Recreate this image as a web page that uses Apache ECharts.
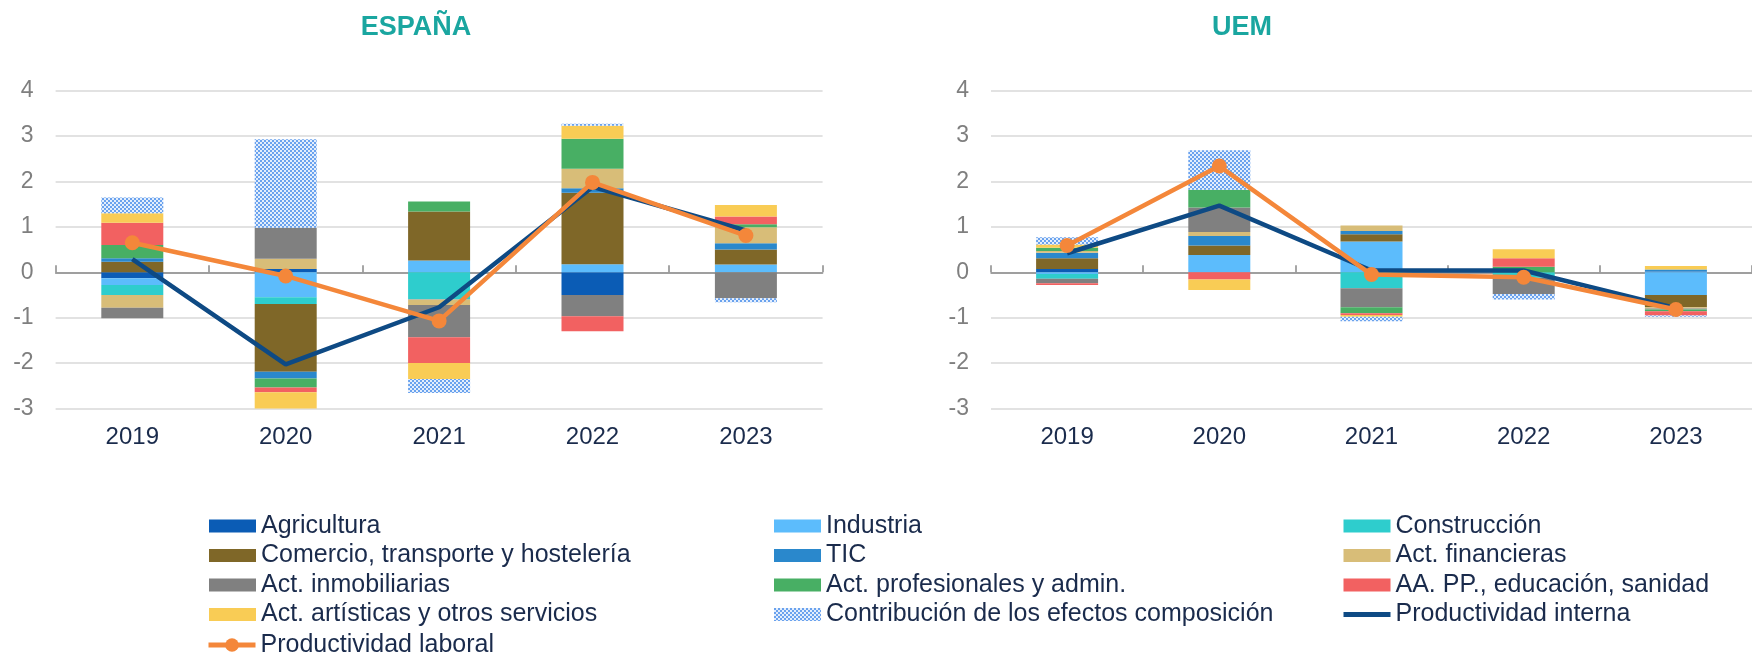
<!DOCTYPE html>
<html>
<head>
<meta charset="utf-8">
<script src="https://cdn.jsdelivr.net/npm/echarts@6/dist/echarts.min.js"></script>
<style>
  html, body { margin: 0; padding: 0; background: #fff; }
  #chart { width: 1752px; height: 652px; }
</style>
</head>
<body>
<div id="chart"></div>
<script>
const years = ['2019', '2020', '2021', '2022', '2023']

// ESPAÑA
const agriEs = [-0.13, 0.07, 0, -0.50, 0]
const indEs = [-0.15, -0.55, 0.26, 0.18, 0.17]
const consEs = [-0.22, -0.15, -0.59, 0, 0]
const comEs = [0.23, -1.49, 1.08, 1.57, 0.33]
const ticEs = [0.08, -0.15, -0.01, 0.10, 0.14]
const finEs = [-0.28, 0.23, -0.12, 0.43, 0.35]
const inmEs = [-0.23, 0.68, -0.71, -0.47, -0.57]
const profEs = [0.29, -0.20, 0.22, 0.66, 0.07]
const aappEs = [0.49, -0.10, -0.57, -0.33, 0.17]
const artEs = [0.21, -0.40, -0.35, 0.29, 0.25]
const contEs = [0.35, 1.95, -0.31, 0.04, -0.09]
const internaEs = [0.29, -2.03, -0.77, 1.88, 0.92]
const laboralEs = [0.65, -0.08, -1.07, 1.98, 0.81]

// UEM
const agriUem = [0.07, 0, 0, 0, 0.02]
const indUem = [-0.04, 0.38, 0.68, 0, -0.50]
const consUem = [-0.10, 0, -0.35, -0.12, 0]
const comUem = [0.24, 0.21, 0.16, 0, -0.27]
const ticUem = [0.12, 0.21, 0.07, 0, 0.04]
const finUem = [0.04, 0.09, 0.12, 0, -0.03]
const inmUem = [-0.10, 0.54, -0.42, -0.36, -0.02]
const profUem = [0.07, 0.39, -0.13, 0.12, -0.04]
const aappUem = [-0.04, -0.16, -0.04, 0.19, -0.09]
const artUem = [0.07, -0.23, -0.04, 0.20, 0.08]
const contUem = [0.16, 0.87, -0.10, -0.12, -0.03]
const internaUem = [0.42, 1.47, 0.04, 0.04, -0.79]
const laboralUem = [0.59, 2.34, -0.05, -0.11, -0.82]

const yTicks = [-3, -2, -1, 0, 1, 2, 3, 4]

// hatched fill for "Contribución de los efectos composición"
function makeHatch() {
  const c = document.createElement('canvas')
  c.width = 4
  c.height = 4
  const ctx = c.getContext('2d')
  ctx.fillStyle = '#e3eefc'
  ctx.fillRect(0, 0, 4, 4)
  ctx.fillStyle = '#6aa2ee'
  ctx.fillRect(0, 0, 2, 2)
  ctx.fillRect(2, 2, 2, 2)
  return c
}
const hatch = { image: makeHatch(), repeat: 'repeat' }

const barDefs = [
  { name: 'Agricultura', color: '#0b5cb5', es: agriEs, uem: agriUem },
  { name: 'Industria', color: '#5cbcfc', es: indEs, uem: indUem },
  { name: 'Construcción', color: '#2ecdcd', es: consEs, uem: consUem },
  { name: 'Comercio, transporte y hostelería', color: '#7f6728', es: comEs, uem: comUem },
  { name: 'TIC', color: '#2a88cc', es: ticEs, uem: ticUem },
  { name: 'Act. financieras', color: '#d8bd78', es: finEs, uem: finUem },
  { name: 'Act. inmobiliarias', color: '#808080', es: inmEs, uem: inmUem },
  { name: 'Act. profesionales y admin.', color: '#48af64', es: profEs, uem: profUem },
  { name: 'AA. PP., educación, sanidad', color: '#f26161', es: aappEs, uem: aappUem },
  { name: 'Act. artísticas y otros servicios', color: '#f9cc55', es: artEs, uem: artUem },
  { name: 'Contribución de los efectos composición', color: hatch, es: contEs, uem: contUem },
]

const series = []
;[['es', 0, 0], ['uem', 2, 1]].forEach(([key, xi, yi]) => {
  barDefs.forEach(d => {
    series.push({
      name: d.name,
      type: 'bar',
      stack: key,
      xAxisIndex: xi,
      yAxisIndex: yi,
      barWidth: 62,
      itemStyle: { color: d.color },
      data: d[key],
      z: 2,
    })
  })
  series.push({
    name: 'Productividad interna',
    type: 'line',
    xAxisIndex: xi,
    yAxisIndex: yi,
    symbol: 'none',
    lineStyle: { color: '#0e4a84', width: 4.5 },
    itemStyle: { color: '#0e4a84' },
    data: key === 'es' ? internaEs : internaUem,
    z: 5,
  })
  series.push({
    name: 'Productividad laboral',
    type: 'line',
    xAxisIndex: xi,
    yAxisIndex: yi,
    symbol: 'circle',
    symbolSize: 15,
    lineStyle: { color: '#f4873a', width: 4.5 },
    itemStyle: { color: '#f4873a' },
    data: key === 'es' ? laboralEs : laboralUem,
    z: 6,
  })
})

const labelAxis = gi => ({
  type: 'category',
  gridIndex: gi,
  data: years,
  axisLine: { show: false, onZero: false },
  axisTick: { show: false },
  axisLabel: { color: '#1a2b4c', fontSize: 24, fontFamily: 'Liberation Sans, Arial', margin: 17 },
})
const zeroAxis = gi => ({
  type: 'category',
  gridIndex: gi,
  data: years,
  axisLine: { show: true, onZero: true, lineStyle: { color: '#898989', width: 1.5 } },
  axisTick: { show: true, length: 7, lineStyle: { color: '#898989', width: 1.5 } },
  axisLabel: { show: false },
})
const valueAxis = gi => ({
  type: 'value',
  gridIndex: gi,
  min: yTicks[0],
  max: yTicks[yTicks.length - 1],
  interval: 1,
  axisLine: { show: false },
  axisTick: { show: false },
  axisLabel: { color: '#7f7f7f', fontSize: 23, fontFamily: 'Liberation Sans, Arial', margin: 22 },
  splitLine: { lineStyle: { color: '#d9d9d9', width: 1.5 } },
})

const iconRect = names => names.map(n => ({ name: n, icon: 'rect' }))
const legendTop = 513.5
const legendRow = 29.5
const legendBase = {
  orient: 'vertical',
  top: legendTop,
  padding: 0,
  itemWidth: 47,
  itemHeight: 13,
  itemGap: legendRow - 25,
  selectedMode: false,
  textStyle: { color: '#1a2b4c', fontSize: 25, lineHeight: 25, fontFamily: 'Liberation Sans, Arial' },
}

const option = {
  animation: false,
  backgroundColor: '#fff',
  title: [
    {
      text: 'ESPAÑA', left: 411, top: 9, textAlign: 'center',
      textStyle: { color: '#1aa6a0', fontSize: 27, fontWeight: 'bold', fontFamily: 'Liberation Sans, Arial' },
    },
    {
      text: 'UEM', left: 1237, top: 9, textAlign: 'center',
      textStyle: { color: '#1aa6a0', fontSize: 27, fontWeight: 'bold', fontFamily: 'Liberation Sans, Arial' },
    },
  ],
  grid: [
    { left: 55.6, width: 767, top: 90.7, height: 317.8, containLabel: false },
    { left: 991, width: 767, top: 90.7, height: 317.8, containLabel: false },
  ],
  xAxis: [labelAxis(0), zeroAxis(0), labelAxis(1), zeroAxis(1)],
  yAxis: [valueAxis(0), valueAxis(1)],
  legend: [
    Object.assign({}, legendBase, {
      left: 209,
      data: iconRect(['Agricultura', 'Comercio, transporte y hostelería', 'Act. inmobiliarias', 'Act. artísticas y otros servicios']),
    }),
    Object.assign({}, legendBase, {
      left: 206,
      top: legendTop + 4 * legendRow + 1,
      itemHeight: 17,
      data: [{ name: 'Productividad laboral', lineStyle: { width: 5 } }],
    }),
    Object.assign({}, legendBase, {
      left: 774,
      data: iconRect(['Industria', 'TIC', 'Act. profesionales y admin.', 'Contribución de los efectos composición']),
    }),
    Object.assign({}, legendBase, {
      left: 1341,
      data: iconRect(['Construcción', 'Act. financieras', 'AA. PP., educación, sanidad']).concat([
        { name: 'Productividad interna', itemStyle: { opacity: 0 }, lineStyle: { width: 5 } },
      ]),
    }),
  ],
  series: series,
}

const chart = echarts.init(document.getElementById('chart'), null, { renderer: 'canvas' })
chart.setOption(option)
</script>
</body>
</html>
